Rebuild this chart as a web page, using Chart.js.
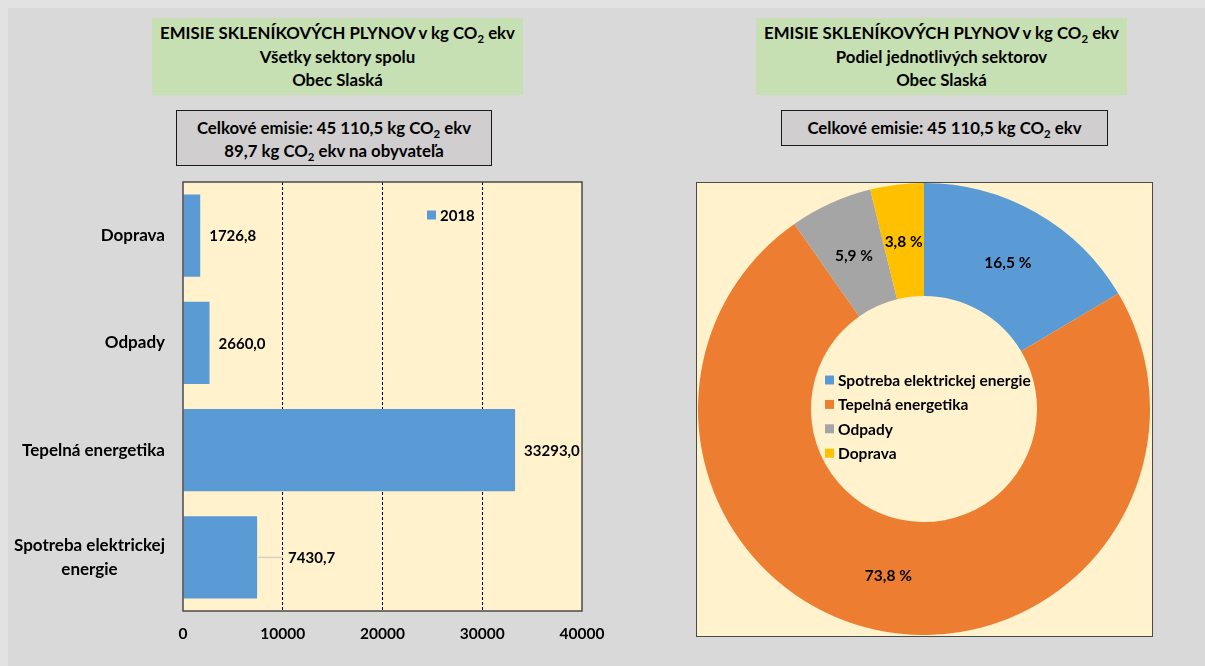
<!DOCTYPE html>
<html><head><meta charset="utf-8">
<script src="https://cdn.jsdelivr.net/npm/chart.js@4.4.1/dist/chart.umd.min.js"></script>
<style>
html,body{margin:0;padding:0;}
body{width:1205px;height:666px;background:#e2e2e2;position:relative;overflow:hidden;font-family:Lato,"Open Sans",sans-serif;font-weight:bold;color:#000;}
#bg{position:absolute;left:8px;top:8px;width:1197px;height:658px;background:#d9d9d9;}
.title{position:absolute;background:#c6e0b4;text-align:center;font-size:16.8px;line-height:23.5px;padding-top:3px;box-sizing:border-box;white-space:nowrap;}
.info{position:absolute;background:#d0cece;border:1.5px solid #1a1a1a;text-align:center;font-size:16.8px;line-height:23px;box-sizing:border-box;white-space:nowrap;}
sub{font-size:68%;vertical-align:baseline;position:relative;top:0.32em;line-height:0;}
#barWrap{position:absolute;left:0;top:170px;width:640px;height:490px;}
#pieBox{position:absolute;left:696px;top:182px;width:457px;height:455px;box-sizing:border-box;border:1.5px solid #4a4a4a;background:#fff2cc;}
#pieWrap{position:absolute;left:0;top:0;width:454px;height:452px;}
</style>
</head><body>
<div id="bg"></div>
<div class="title" style="left:152px;top:18px;width:371px;height:77px;">EMISIE SKLENÍKOVÝCH PLYNOV v kg CO<sub>2</sub> ekv<br>Všetky sektory spolu<br>Obec Slaská</div>
<div class="info" style="left:176px;top:110px;width:316px;height:56px;padding-top:5px;">Celkové emisie: 45 110,5 kg CO<sub>2</sub> ekv<br>89,7 kg CO<sub>2</sub> ekv na obyvateľa</div>
<div class="title" style="left:756px;top:18px;width:371px;height:77px;">EMISIE SKLENÍKOVÝCH PLYNOV v kg CO<sub>2</sub> ekv<br>Podiel jednotlivých sektorov<br>Obec Slaská</div>
<div class="info" style="left:781px;top:110px;width:327px;height:36px;padding-top:5px;">Celkové emisie: 45 110,5 kg CO<sub>2</sub> ekv</div>
<div id="barWrap"><canvas id="bar"></canvas></div>
<div id="pieBox"><div id="pieWrap"><canvas id="pie"></canvas></div></div>
<script>
// ---- data ----
const categories = ['Spotreba elektrickej energie', 'Tepelná energetika', 'Odpady', 'Doprava'];
const values2018 = [7430.7, 33293.0, 2660.0, 1726.8];
const seriesLabel = '2018';
const xTickValues = [0, 10000, 20000, 30000, 40000];
const sliceColors = ['#5b9bd5', '#ed7d31', '#a5a5a5', '#ffc000'];
const barColor = '#5b9bd5';

const FONT = 'Lato, "Open Sans", sans-serif';
const fmt1 = v => v.toFixed(1).replace('.', ',');

function wrapText(ctx, text, maxW) {
  const words = text.split(' ');
  const lines = [];
  let cur = '';
  for (const w of words) {
    const t = cur ? cur + ' ' + w : w;
    if (ctx.measureText(t).width > maxW && cur) { lines.push(cur); cur = w; }
    else cur = t;
  }
  if (cur) lines.push(cur);
  return lines;
}

const plotBg = {
  id: 'plotBg',
  beforeDraw(chart) {
    const a = chart.chartArea, c = chart.ctx;
    c.save();
    c.fillStyle = '#fff2cc';
    c.fillRect(a.left, a.top, a.right - a.left, a.bottom - a.top);
    c.restore();
  },
  afterDraw(chart) {
    const a = chart.chartArea, c = chart.ctx;
    c.save();
    c.strokeStyle = '#4a4a4a';
    c.lineWidth = 1.5;
    c.strokeRect(a.left, a.top, a.right - a.left, a.bottom - a.top);
    c.restore();
  }
};

const catLabels = {
  id: 'catLabels',
  afterDraw(chart) {
    const c = chart.ctx, y = chart.scales.y;
    c.save();
    c.font = 'bold 17px ' + FONT;
    c.fillStyle = '#000';
    c.textBaseline = 'middle';
    const right = 165, lh = 24;
    chart.data.labels.forEach((lab, i) => {
      const py = y.getPixelForValue(i);
      const lines = wrapText(c, lab, 158);
      const bw = Math.max(...lines.map(l => c.measureText(l).width));
      const cx = right - bw / 2;
      c.textAlign = 'center';
      lines.forEach((l, k) => {
        c.fillText(l, cx, py + (k - (lines.length - 1) / 2) * lh);
      });
    });
    c.restore();
  }
};

const barLabels = {
  id: 'barLabels',
  afterDatasetsDraw(chart, args, opts) {
    const c = chart.ctx;
    const meta = chart.getDatasetMeta(0);
    c.save();
    c.font = 'bold 15px ' + FONT;
    c.fillStyle = '#000';
    c.textBaseline = 'middle';
    c.textAlign = 'left';
    meta.data.forEach((el, i) => {
      const v = chart.data.datasets[0].data[i];
      const shift = (opts.shift && opts.shift[i]) || 0;
      if (shift) {
        c.strokeStyle = '#d6d0c4';
        c.lineWidth = 1.5;
        c.beginPath();
        c.moveTo(el.x + 1, el.y);
        c.lineTo(el.x + shift + 4, el.y);
        c.stroke();
      }
      c.fillText(fmt1(v), el.x + 9 + shift, el.y + 1);
    });
    // legend
    const a = chart.chartArea;
    const lx = a.left + 244, ly = a.top + 33;
    c.fillStyle = chart.data.datasets[0].backgroundColor;
    c.fillRect(lx, ly - 4.5, 9, 9);
    c.fillStyle = '#000';
    c.font = 'bold 15px ' + FONT;
    c.fillText(chart.data.datasets[0].label, lx + 13, ly + 1);
    c.restore();
  }
};

const pieLabels = {
  id: 'pieLabels',
  afterDatasetsDraw(chart) {
    const c = chart.ctx;
    const meta = chart.getDatasetMeta(0);
    const data = chart.data.datasets[0].data;
    const total = data.reduce((s, v) => s + v, 0);
    c.save();
    c.font = 'bold 15.5px ' + FONT;
    c.fillStyle = '#000';
    c.textAlign = 'center';
    c.textBaseline = 'middle';
    meta.data.forEach((el, i) => {
      const p = el.getCenterPoint();
      c.fillText(fmt1(data[i] / total * 100) + '\u00a0%', p.x, p.y + 1);
    });
    // legend in the hole
    const el0 = meta.data[0];
    const cx = el0.x, cy = el0.y;
    const lx = cx - 99, ly = cy - 29, step = 24.4;
    c.textAlign = 'left';
    chart.data.labels.forEach((lab, i) => {
      const y = ly + i * step;
      c.fillStyle = chart.data.datasets[0].backgroundColor[i];
      c.fillRect(lx, y - 4.5, 9, 9);
      c.fillStyle = '#000';
      c.fillText(lab, lx + 13, y + 1);
    });
    c.restore();
  }
};

function build() {
  new Chart(document.getElementById('bar'), {
    type: 'bar',
    data: {
      labels: categories,
      datasets: [{
        label: seriesLabel,
        data: values2018,
        backgroundColor: barColor,
        borderWidth: 0,
        barPercentage: 0.765,
        categoryPercentage: 1
      }]
    },
    options: {
      indexAxis: 'y',
      responsive: true,
      maintainAspectRatio: false,
      animation: false,
      layout: { padding: { left: 0, top: 12, right: 58, bottom: 0 } },
      plugins: { legend: { display: false }, tooltip: { enabled: false }, barLabels: { shift: { 0: 22 } } },
      scales: {
        x: {
          min: 0, max: 40000,
          afterBuildTicks: s => { s.ticks = xTickValues.map(v => ({ value: v })); },
          afterFit: s => { s.height = 49; },
          ticks: {
            color: '#000', font: { family: FONT, size: 15.5, weight: 'bold' }, padding: 14, maxRotation: 0,
            callback: v => String(v)
          },
          grid: {
            drawTicks: false,
            lineWidth: 1,
            color: ctx => (ctx.tick && (ctx.tick.value === 0 || ctx.tick.value === 40000)) ? 'rgba(0,0,0,0)' : '#000'
          },
          border: { display: false, dash: [3, 2] }
        },
        y: {
          reverse: true,
          afterFit: s => { s.width = 183; },
          ticks: { display: false },
          grid: { display: false },
          border: { display: false }
        }
      }
    },
    plugins: [plotBg, catLabels, barLabels]
  });

  new Chart(document.getElementById('pie'), {
    type: 'doughnut',
    data: {
      labels: categories,
      datasets: [{ data: values2018, backgroundColor: sliceColors, borderWidth: 0 }]
    },
    options: {
      responsive: true,
      maintainAspectRatio: false,
      animation: false,
      cutout: '50%',
      layout: { padding: 0 },
      plugins: { legend: { display: false }, tooltip: { enabled: false } }
    },
    plugins: [pieLabels]
  });
}

if (document.fonts && document.fonts.load) {
  document.fonts.load('bold 15px Lato').then(build, build);
} else build();
</script>
</body></html>
